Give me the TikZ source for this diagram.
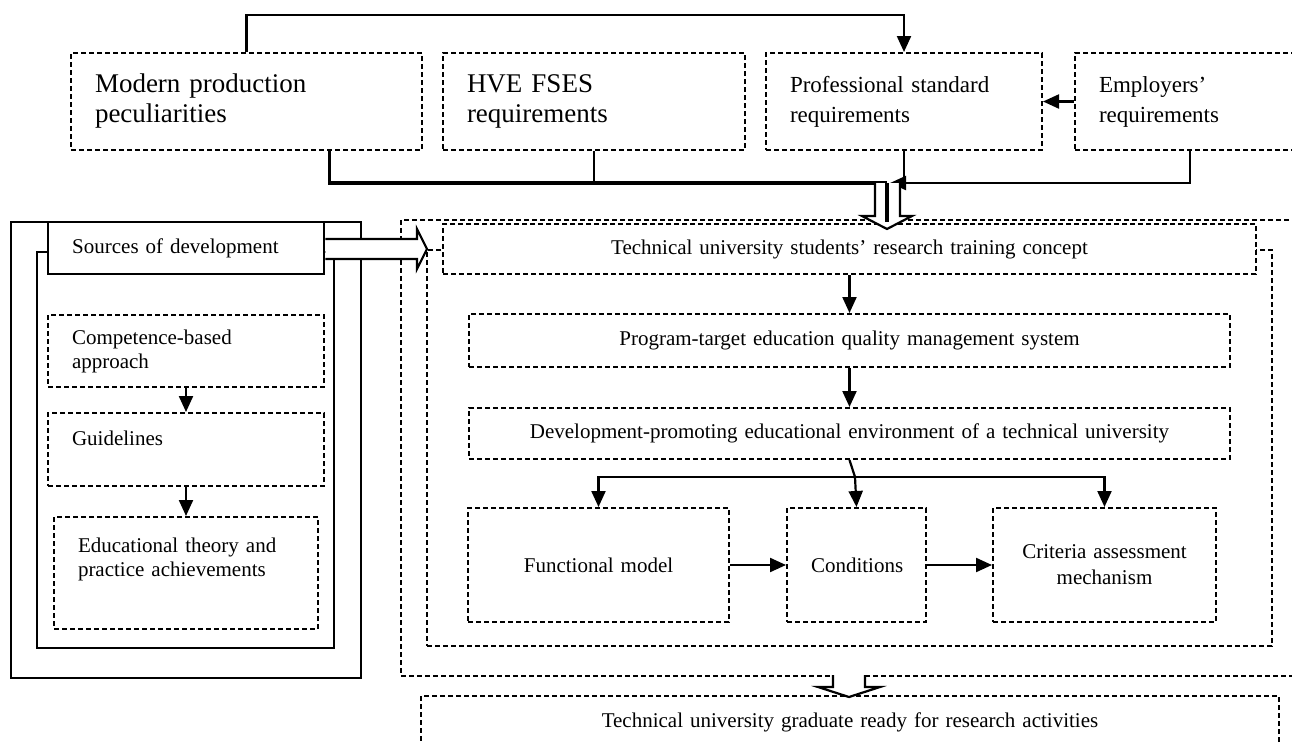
\documentclass[tikz,border=0pt]{standalone}
\usepackage{fontspec}
\setmainfont{Liberation Serif}
\usetikzlibrary{arrows.meta}
\newcommand{\boxNode}[7]{
	\node[#1, below right, minimum width = #5*0.5pt, minimum height = #6*0.5pt, text width = #5*0.5pt-24pt] (#2) at (#3, #4) {#7};
}
\tikzset{
	dotbox/.style = {draw, line width = 1pt, dash pattern = on 2.5pt off 1.5pt, fill = white, inner xsep = 12pt, inner ysep = 0pt},
	solidbox/.style = {draw, line width = 1.2pt, fill = white, inner xsep = 12pt, inner ysep = 0pt},
	frame/.style = {draw, line width = 1.2pt, inner sep = 0pt},
	dotframe/.style = {draw, line width = 1pt, dash pattern = on 2.5pt off 1.5pt, inner sep = 0pt},
	link/.style = {line width = 1.1pt, -{Triangle[length = 8pt, width = 7pt]}},
	hollow/.style = {draw, line width = 1.1pt, fill = white},
	topfont/.style = {font = \fontsize{13.5}{15}\selectfont},
	topfontsmall/.style = {font = \fontsize{11.5}{15}\selectfont},
	sidefont/.style = {font = \fontsize{10.5}{12}\selectfont},
	midfont/.style = {font = \fontsize{10.5}{13}\selectfont}
}
\begin{document}
\begin{tikzpicture}[x = 0.5pt, y = -0.5pt]%
		\useasboundingbox (0, 0) rectangle (1292, 744);

		% frames
		\boxNode{dotframe}{bigframe}{400}{219}{900}{456}{}
		\boxNode{dotframe}{envframe}{426}{249}{845}{396}{}
		\boxNode{frame}{srcouter}{10}{221}{350}{456}{}
		\boxNode{frame}{srcinner}{36}{251}{297}{396}{}

		% requirements
		\boxNode{dotbox, align = left, topfont}{modern}{70}{52}{351}{97}{Modern production\\peculiarities}
		\boxNode{dotbox, align = left, topfont}{hve}{442}{52}{302}{97}{HVE FSES\\requirements}
		\boxNode{dotbox, align = left, topfontsmall}{prof}{765}{52}{276}{97}{Professional standard\\requirements}
		\boxNode{dotbox, align = left, topfontsmall}{emp}{1074}{52}{230}{97}{Employers’\\requirements}

		% sources
		\boxNode{solidbox, align = left, sidefont}{sources}{47}{221}{276}{52}{Sources of development}
		\boxNode{dotbox, align = left, sidefont}{comp}{47}{314}{276}{72}{Competence-based\\approach}
		\boxNode{dotbox, align = left, sidefont, text depth = 11pt}{guide}{47}{412}{276}{73}{Guidelines}
		\boxNode{dotbox, align = left, sidefont, text depth = 28pt}{edu}{53}{516}{264}{112}{Educational theory and\\practice achievements}

		% concept
		\boxNode{dotbox, align = center, midfont}{concept}{442}{223}{813}{50}{Technical university students’ research training concept}
		\boxNode{dotbox, align = center, midfont}{program}{468}{313}{761}{53}{Program-target education quality management system}
		\boxNode{dotbox, align = center, midfont}{devenv}{468}{407}{761}{51}{Development-promoting educational environment of a technical university}
		\boxNode{dotbox, align = center, midfont}{func}{467}{507}{261}{114}{Functional model}
		\boxNode{dotbox, align = center, midfont}{cond}{786}{507}{139}{114}{Conditions}
		\boxNode{dotbox, align = center, midfont}{crit}{992}{507}{223}{114}{Criteria assessment\\mechanism}
		\boxNode{dotbox, align = center, midfont}{grad}{420}{695}{858}{52}{Technical university graduate ready for research activities}

		% connectors
		\coordinate (bus) at (887, 183);
		\coordinate (fork) at (855, 477);
		\draw[link] (modern.north) -- ++(0, -37) -| (prof.north);
		\draw[link] (emp.west) -- (prof.east);
		\draw[line width = 1.6pt] ([xshift = 41.5pt]modern.south) |- (bus);
		\draw[line width = 1.1pt] (hve.south) -- (hve.south |- bus);
		\draw[line width = 1.1pt] (prof.south) -- (prof.south |- bus);
		\draw[link] (emp.south) |- ([xshift = 1.5pt]bus);
		\draw[link] (comp.south) -- (guide.north);
		\draw[link] (guide.south) -- (edu.north);
		\draw[link] (concept.south) -- (program.north);
		\draw[link] (program.south) -- (devenv.north);
		\draw[line width = 1.1pt] (devenv.south) -- (fork);
		\draw[link] (fork) -| (func.north);
		\draw[link] (fork) -- (cond.north);
		\draw[link] (fork) -| (crit.north);
		\draw[link] (func.east) -- (cond.west);
		\draw[link] (cond.east) -- (crit.west);

		% hollow arrows
		\draw[hollow] (875, 183) -- (875, 216) -- (862, 216) -- (887, 229) -- (912, 216) -- (900, 216) -- (900, 183);
		\draw[line width = 1.6pt] (bus) -- (887, 222);
		\draw[hollow] (sources.east |- 0, 239) -- (417, 239) -- (417, 229) -- (427, 249) -- (417, 269) -- (417, 259) -- (sources.east |- 0, 259);
		\draw[hollow] (833, 675) -- (833, 687) -- (818, 687) -- (849, 697) -- (880, 687) -- (865, 687) -- (865, 675);
	\end{tikzpicture}
\end{document}
